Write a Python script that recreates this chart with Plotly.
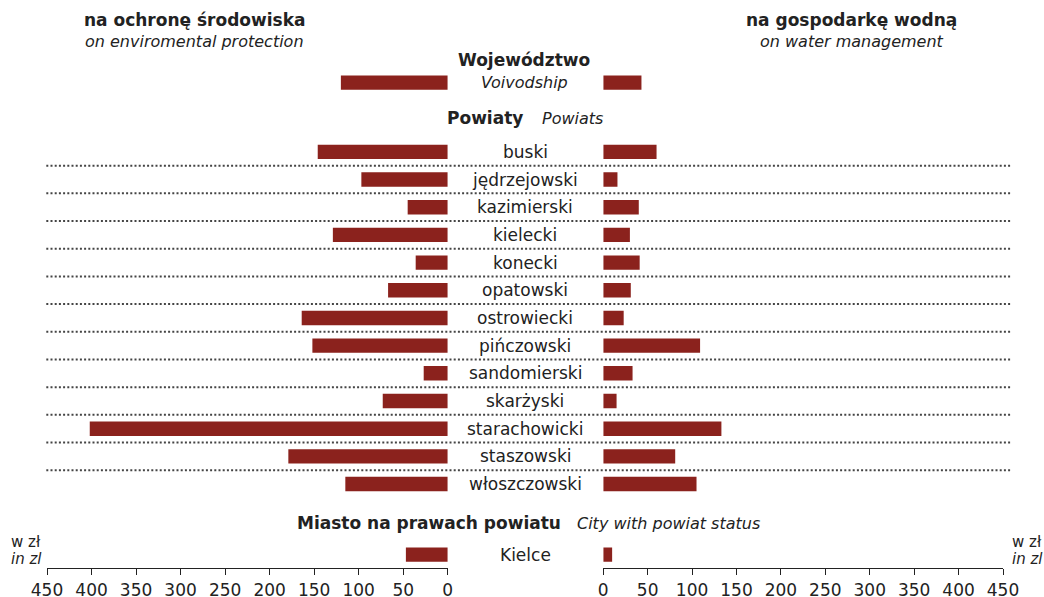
import plotly.graph_objects as go

# wydatki w zł na 1 mieszkańca
voiv_label = "Voivodship"
voiv_env = 120
voiv_water = 43

powiats = ["buski", "jędrzejowski", "kazimierski", "kielecki", "konecki", "opatowski",
           "ostrowiecki", "pińczowski", "sandomierski", "skarżyski", "starachowicki",
           "staszowski", "włoszczowski"]
powiat_env = [146, 97, 45, 129, 36, 67, 164, 152, 27, 73, 402, 179, 115]
powiat_water = [60, 16, 40, 30, 41, 31, 23, 109, 33, 15, 133, 81, 105]

city = "Kielce"
city_env = 47
city_water = 10

tick_vals = list(range(0, 451, 50))

# row positions (top to bottom)
voiv_pos = 0
powiat_pos = [2.5 + i for i in range(len(powiats))]
city_pos = powiat_pos[-1] + 2.55

FONT = "DejaVu Sans"
TXT = "#222222"
BAR = "#8B221D"

W, H = 1044, 597
L, R, T, B = 46.7, 40.7, 65.6, 29
PW, PH = W - L - R, H - T - B


def px(x):
    # screen pixel -> paper x
    return (x - L) / PW


def py(y):
    # screen pixel -> paper y
    return (H - B - y) / PH


y_all = [voiv_pos] + powiat_pos + [city_pos]
env_all = [voiv_env] + powiat_env + [city_env]
water_all = [voiv_water] + powiat_water + [city_water]

fig = go.Figure()
fig.add_trace(go.Bar(x=env_all, y=y_all, orientation="h", width=0.52,
                     marker=dict(color=BAR, line=dict(width=0)),
                     xaxis="x", yaxis="y", hoverinfo="x"))
fig.add_trace(go.Bar(x=water_all, y=y_all, orientation="h", width=0.52,
                     marker=dict(color=BAR, line=dict(width=0)),
                     xaxis="x2", yaxis="y", hoverinfo="x"))

shapes = []
for p in powiat_pos[:-1]:
    shapes.append(dict(type="line", xref="paper", yref="y",
                       x0=px(46), x1=px(1010.7), y0=p + 0.5, y1=p + 0.5,
                       line=dict(color="#444444", width=2, dash="2px,2.2px")))

annotations = []
mid = px(525.5)
for name, p in zip(powiats + [city], powiat_pos + [city_pos]):
    annotations.append(dict(text=name, x=mid, y=p, xref="paper", yref="y",
                            showarrow=False, font=dict(size=17)))


def note(text, x, y, size=17, xanchor="center"):
    annotations.append(dict(text=text, x=px(x), y=py(y), xref="paper", yref="paper",
                            showarrow=False, xanchor=xanchor, yanchor="middle",
                            font=dict(size=size)))


note("<b>na ochronę środowiska</b>", 194, 20)
note("<i>on enviromental protection</i>", 194, 41, 16)
note("<b>na gospodarkę wodną</b>", 852, 20)
note("<i>on water management</i>", 852, 41, 16)
note("<b>Województwo</b>", 524, 60)
note("<i>%s</i>" % voiv_label, 524.7, 82, 16)
note("<b>Powiaty</b>", 485, 118)
note("<i>Powiats</i>", 572.5, 118, 16)
note("<b>Miasto na prawach powiatu</b>", 429, 523)
note("<i>City with powiat status</i>", 669, 523, 16)
note("w zł", 9, 542, 15, "left")
note("<i>in zl</i>", 9, 559, 15, "left")
note("w zł", 1010, 542, 15, "left")
note("<i>in zl</i>", 1010, 559, 15, "left")

axis_common = dict(tickvals=tick_vals, ticks="outside", ticklen=6, tickwidth=1.2,
                   tickcolor=TXT, showline=True, linecolor=TXT, linewidth=1.2,
                   showgrid=False, zeroline=False, anchor="y", automargin=False,
                   fixedrange=True, tickfont=dict(size=17, color=TXT, family=FONT))

fig.update_layout(
    width=W, height=H,
    margin=dict(l=L, r=R, t=T, b=B, pad=0),
    plot_bgcolor="white", paper_bgcolor="white",
    font=dict(family=FONT, size=17, color=TXT),
    showlegend=False, barmode="overlay",
    xaxis=dict(domain=[0, px(447.7)], range=[450, 0], **axis_common),
    xaxis2=dict(domain=[px(603.3), px(1003.3)], range=[0, 450], **axis_common),
    yaxis=dict(range=[(568 - 82.2) / 27.71, -0.6], visible=False,
               automargin=False, fixedrange=True),
    shapes=shapes,
    annotations=annotations,
)

# drop the default 8px body margin so the figure fills the window exactly
fig.write_html("out.html", config={"displayModeBar": False},
               post_script="document.body.style.margin='0';"
                           "document.body.style.overflow='hidden';")
